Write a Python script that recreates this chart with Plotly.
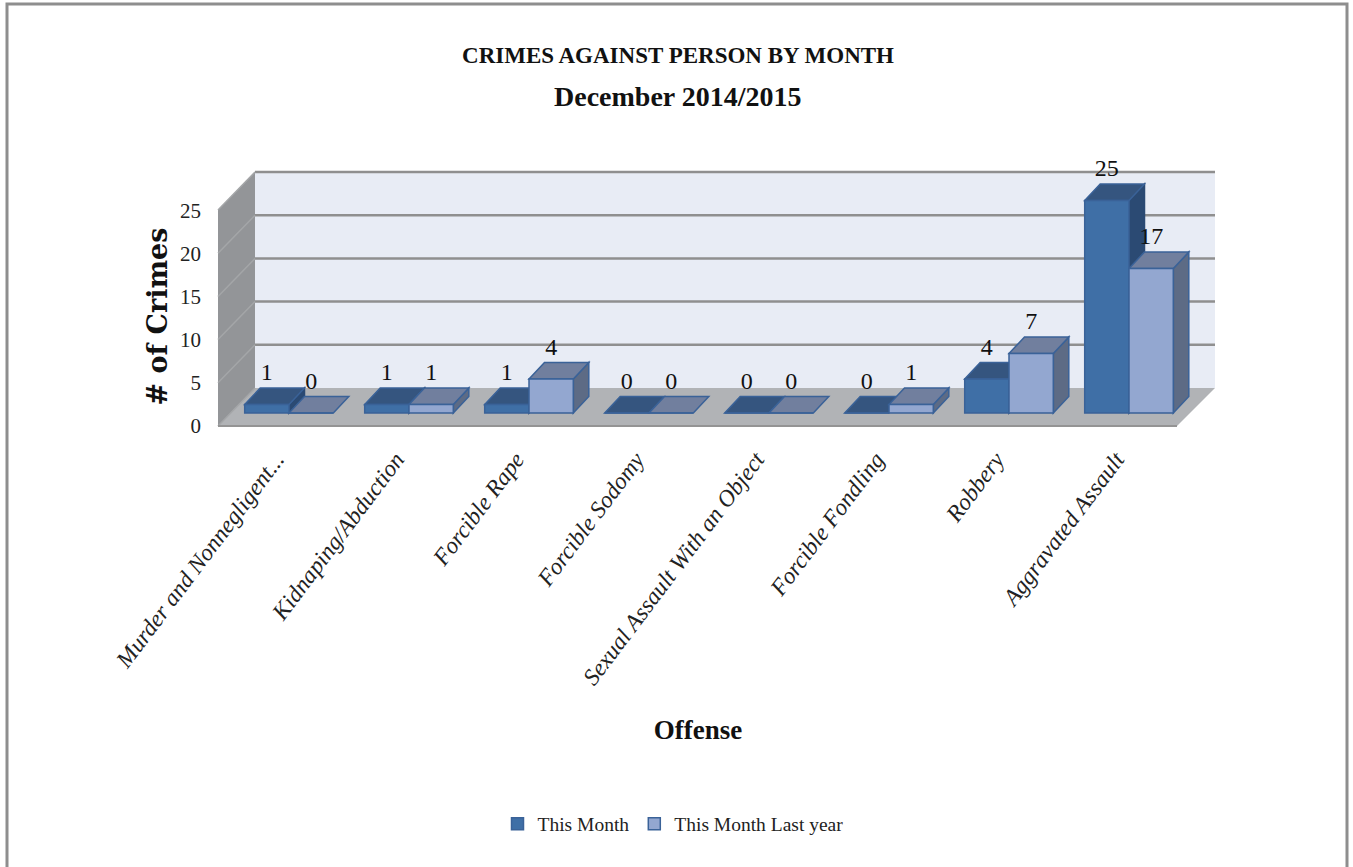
import plotly.graph_objects as go

categories = ["Murder and Nonnegligent...", "Kidnaping/Abduction", "Forcible Rape", "Forcible Sodomy",
              "Sexual Assault With an Object", "Forcible Fondling", "Robbery", "Aggravated Assault"]
this_month = [1, 1, 1, 0, 0, 0, 4, 25]
last_year = [0, 1, 4, 0, 0, 1, 7, 17]
y_ticks = [0, 5, 10, 15, 20, 25]
series_names = ["This Month", "This Month Last year"]

W, H = 1353, 867
PX_X = 120.0          # px per category
PX_Y = 8.5            # px per unit on the bar axis
X0_PX, Y0_PX = 289.0, 413.0
SERIF = "Liberation Serif"

def fx(p): return (p - X0_PX) / PX_X
def fy(p): return (Y0_PX - p) / PX_Y

BAR = 44.3 / PX_X
DX, DY = 15.5 / PX_X, 16.5 / PX_Y

def path(pts):
    return "M " + " L ".join(f"{a:.4f},{b:.4f}" for a, b in pts) + " Z"

shapes = []
def face(pts, fill, line=None, width=1.5):
    shapes.append(dict(type="path", path=path(pts), xref="x", yref="y2", layer="below",
                       fillcolor=fill, line=dict(color=line or fill, width=width if line else 0)))

# Walls and floor
xf0, xf1, xb0, xb1 = fx(218), fx(1177), fx(255), fx(1215)
yf0, yb0 = fy(426), fy(388)
pitch = 43.2 / PX_Y / 5
wall_top = yb0 + max(y_ticks) * pitch
front_top = yf0 + max(y_ticks) * pitch
GRID = "#8f8f8f"
face([(xb0, yb0), (xb1, yb0), (xb1, wall_top), (xb0, wall_top)], "#e8ecf5")
face([(xf0, yf0), (xb0, yb0), (xb0, wall_top), (xf0, front_top)], "#939598")
face([(xf0, yf0), (xf1, yf0), (xb1, yb0), (xb0, yb0)], "#b1b3b6")
for v in y_ticks:
    by = yb0 + v * pitch
    fy_ = yf0 + v * pitch
    if v:
        shapes.append(dict(type="line", xref="x", yref="y2", x0=xb0, x1=xb1, y0=by, y1=by, layer="below",
                           line=dict(color=GRID, width=2.5)))
    shapes.append(dict(type="line", xref="x", yref="y2", x0=xf0, x1=xb0, y0=fy_, y1=by, layer="below",
                       line=dict(color="#a4a6a8", width=1.5)))
shapes.append(dict(type="line", xref="x", yref="y2", x0=xf0, x1=xf1, y0=yf0, y1=yf0, layer="below",
                   line=dict(color="#949494", width=2)))

# 3D faces of the bars, built from the values
EDGE = "#3a6298"
styles = [("#3f6fa6", "#2b4a73", "#35557f"), ("#93a7d0", "#5d6b85", "#717f9e")]
offsets = [-BAR / 2, BAR / 2]
for s, vals in enumerate([this_month, last_year]):
    front, side, top = styles[s]
    for i, v in enumerate(vals):
        c = i + offsets[s]
        l, r = c - BAR / 2, c + BAR / 2
        if v > 0:
            face([(r, 0), (r + DX, DY), (r + DX, v + DY), (r, v)], side, EDGE if s else side)
        face([(l, v), (r, v), (r + DX, v + DY), (l + DX, v + DY)], top, EDGE)

fig = go.Figure()
idx = list(range(len(categories)))
for s, vals in enumerate([this_month, last_year]):
    fig.add_trace(go.Bar(x=idx, y=vals, name=series_names[s], yaxis="y2", width=BAR, offset=-BAR if s == 0 else 0,
                         marker=dict(color=styles[s][0], line=dict(color=EDGE, width=1.5))))
for s, vals in enumerate([this_month, last_year]):
    fig.add_trace(go.Scatter(x=[i + offsets[s] for i in idx], y=[v + DY + 0.2 for v in vals], yaxis="y2",
                             mode="text", text=[str(v) for v in vals], textposition="top center",
                             textfont=dict(family=SERIF, size=24, color="#111111"), showlegend=False,
                             hoverinfo="skip"))
fig.add_trace(go.Scatter(x=[None], y=[None], yaxis="y", showlegend=False, hoverinfo="skip"))

fig.update_layout(
    width=W, height=H, margin=dict(l=0, r=0, t=0, b=0, autoexpand=False), autosize=False,
    paper_bgcolor="white", plot_bgcolor="rgba(0,0,0,0)", barmode="overlay", shapes=shapes,
    font=dict(family=SERIF, color="#111111"),
    title=dict(text="<b>CRIMES AGAINST PERSON BY MONTH</b>", x=678 / W, xanchor="center", y=1 - 55 / H, yanchor="middle",
               font=dict(family=SERIF, size=23, color="#111111")),
    annotations=[dict(text="<b>December 2014/2015</b>", xref="paper", yref="paper", x=678 / W, y=1 - 97 / H,
                      xanchor="center", yanchor="middle", showarrow=False,
                      font=dict(family=SERIF, size=28, color="#111111"))],
    xaxis=dict(domain=[181 / W, 1215 / W], range=[fx(181), fx(1215)], anchor="y2", tickmode="array", tickvals=idx,
               ticktext=[f"<i>{c}</i>" for c in categories], tickangle=-53, showgrid=False, zeroline=False,
               ticklabelshift=-13, showline=False, ticks="", automargin=False,
               tickfont=dict(family=SERIF, size=23.5, color="#222222"),
               title=dict(text="<b>Offense</b>", font=dict(family=SERIF, size=27, color="#111111"), standoff=31)),
    yaxis=dict(domain=[1 - 425.5 / H, 1 - 207.5 / H], range=[0, 218 / 8.6], anchor="free", position=201 / W,
               tickmode="array", tickvals=y_ticks, showgrid=False, zeroline=False, showline=False, ticks="",
               automargin=False, tickfont=dict(family=SERIF, size=21, color="#222222"),
               title=dict(text="<b># of Crimes</b>", font=dict(family="DejaVu Serif", size=27, color="#111111"), standoff=3)),
    yaxis2=dict(domain=[1 - 440 / H, 1 - 100 / H], range=[fy(440), fy(100)], anchor="x", visible=False, automargin=False),
    legend=dict(orientation="h", x=673 / W, xanchor="center", y=1 - 824 / H, yanchor="middle",
                font=dict(family=SERIF, size=19.5, color="#222222"), itemwidth=30, traceorder="normal"),
)
# Outer frame
fig.add_shape(type="rect", xref="paper", yref="paper", x0=7 / W, x1=1347 / W, y0=-0.02, y1=1 - 4 / H,
              line=dict(color="#8e8e8e", width=3), layer="above")

fig.write_html("out.html", post_script="document.body.style.margin='0';", config=dict(displayModeBar=False))
